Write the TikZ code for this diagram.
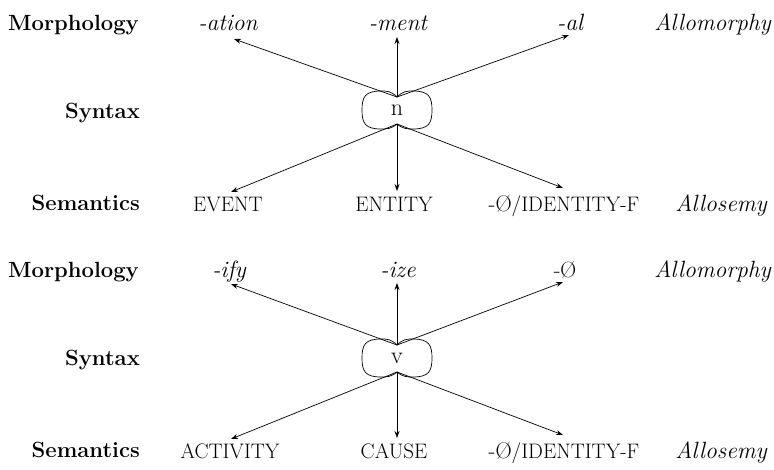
\documentclass[tikz,border=0pt]{standalone}
\usepackage{fontspec}
\usetikzlibrary{arrows.meta}
\tikzset{
  lbl/.style={font=\fontsize{22}{26}\selectfont\bfseries, anchor=base east, inner sep=0pt},
  itl/.style={font=\fontsize{23.5}{28}\selectfont\itshape, anchor=base, inner sep=0pt},
  upr/.style={font=\fontsize{22}{26}\selectfont, anchor=base, inner sep=0pt},
  smc/.style={font=\fontsize{21}{24}\selectfont, anchor=base, inner sep=0pt},
  rtl/.style={font=\fontsize{23.5}{28}\selectfont\itshape, anchor=base east, inner sep=0pt},
  cat/.style={font=\fontsize{24}{26}\selectfont, inner sep=0pt},
  arr/.style={-{Stealth[length=7pt,width=5pt]}, line width=0.7pt},
  pinch/.style={line width=0.7pt}
}
\newcommand\bigzero{{\fontsize{22.5}{24}\selectfont -Ø}}
\newcommand\pinchoutline[1]{%
  \draw[pinch, shift={(#1.center)}] (0,-13)
    .. controls (6,-19) and (10,-19) .. (16,-19)
    .. controls (32,-19) and (35,-13) .. (35,0)
    .. controls (35,13) and (32,19) .. (16,19)
    .. controls (10,19) and (6,19) .. (0,14)
    .. controls (-6,19) and (-10,19) .. (-16,19)
    .. controls (-32,19) and (-35,13) .. (-35,0)
    .. controls (-35,-13) and (-32,-19) .. (-16,-19)
    .. controls (-10,-19) and (-6,-19) .. cycle;
  \coordinate (#1top) at ([yshift=13pt]#1.center);
  \coordinate (#1bot) at ([yshift=-14pt]#1.center);
}
\begin{document}
\begin{tikzpicture}[x=1pt,y=-1pt]
\useasboundingbox (0,0) rectangle (774,469);

% ---------- upper block ----------
\node[lbl] (morph1) at (139,30) {Morphology};
\node[itl] (ation) at (228,30) {-ation};
\node[itl] (ment) at (398,30) {-ment};
\node[itl] (al) at (570,30) {-al};
\node[rtl] (allomorph1) at (771,30) {Allomorphy};

\node[lbl] (syn1) at (140,118) {Syntax};
\node[cat] (n) at (397,110) {n};
\pinchoutline{n}

\node[lbl] (sem1) at (140,210) {Semantics};
\node[smc] (event) at (228,211) {EVENT};
\node[smc] (entity) at (394,211) {ENTITY};
\node[smc] (idf1) at (564,211) {\bigzero/IDENTITY-F};
\node[rtl] (allosem1) at (767,211) {Allosemy};

\coordinate (ationtip) at (234,39);
\coordinate (menttip) at (397,37);
\coordinate (altip) at (569,35);
\coordinate (eventtip) at (231,192);
\coordinate (entitytip) at (397,191);
\coordinate (idf1tip) at (563,188);

\draw[arr] (ntop) -- (ationtip);
\draw[arr] (ntop) -- (menttip);
\draw[arr] (ntop) -- (altip);
\draw[arr] (nbot) -- (eventtip);
\draw[arr] (nbot) -- (entitytip);
\draw[arr] (nbot) -- (idf1tip);

% ---------- lower block ----------
\node[lbl] (morph2) at (139,277) {Morphology};
\node[itl] (ify) at (229,277) {-ify};
\node[itl] (ize) at (398,277) {-ize};
\node[upr] (zero) at (565,277) {-Ø};
\node[rtl] (allomorph2) at (771,277) {Allomorphy};

\node[lbl] (syn2) at (140,365) {Syntax};
\node[cat] (v) at (397,358) {v};
\pinchoutline{v}

\node[lbl] (sem2) at (140,457) {Semantics};
\node[smc] (activity) at (230,458) {ACTIVITY};
\node[smc] (cause) at (394,458) {CAUSE};
\node[smc] (idf2) at (564,458) {\bigzero/IDENTITY-F};
\node[rtl] (allosem2) at (767,458) {Allosemy};

\coordinate (ifytip) at (231,284);
\coordinate (izetip) at (397,283);
\coordinate (zerotip) at (563,282);
\coordinate (activitytip) at (231,439);
\coordinate (causetip) at (397,438);
\coordinate (idf2tip) at (563,435);

\draw[arr] (vtop) -- (ifytip);
\draw[arr] (vtop) -- (izetip);
\draw[arr] (vtop) -- (zerotip);
\draw[arr] (vbot) -- (activitytip);
\draw[arr] (vbot) -- (causetip);
\draw[arr] (vbot) -- (idf2tip);
\end{tikzpicture}
\end{document}
